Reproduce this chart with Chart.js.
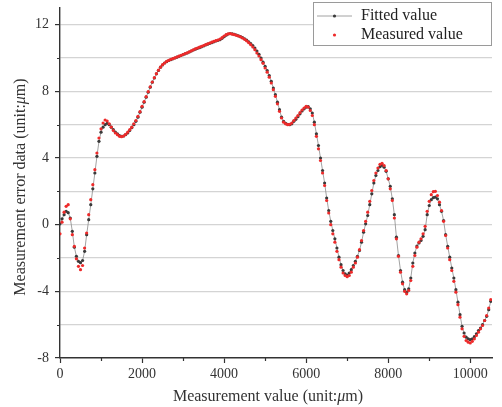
<!DOCTYPE html>
<html>
<head>
<meta charset="utf-8">
<script src="https://cdn.jsdelivr.net/npm/chart.js@4.4.1/dist/chart.umd.min.js"></script>
<style>
  html, body { margin: 0; padding: 0; background: #fff; }
  canvas { display: block; }
</style>
</head>
<body>
<canvas id="c" width="502" height="407"></canvas>
<script>
// ---------- data ----------
const xValues = [
  0, 50, 100, 150, 200, 250, 300, 350, 400, 450,
  500, 550, 600, 650, 700, 750, 800, 850, 900, 950,
  1000, 1050, 1100, 1150, 1200, 1250, 1300, 1350, 1400, 1450,
  1500, 1550, 1600, 1650, 1700, 1750, 1800, 1850, 1900, 1950,
  2000, 2050, 2100, 2150, 2200, 2250, 2300, 2350, 2400, 2450,
  2500, 2550, 2600, 2650, 2700, 2750, 2800, 2850, 2900, 2950,
  3000, 3050, 3100, 3150, 3200, 3250, 3300, 3350, 3400, 3450,
  3500, 3550, 3600, 3650, 3700, 3750, 3800, 3850, 3900, 3950,
  4000, 4050, 4100, 4150, 4200, 4250, 4300, 4350, 4400, 4450,
  4500, 4550, 4600, 4650, 4700, 4750, 4800, 4850, 4900, 4950,
  5000, 5050, 5100, 5150, 5200, 5250, 5300, 5350, 5400, 5450,
  5500, 5550, 5600, 5650, 5700, 5750, 5800, 5850, 5900, 5950,
  6000, 6050, 6100, 6150, 6200, 6250, 6300, 6350, 6400, 6450,
  6500, 6550, 6600, 6650, 6700, 6750, 6800, 6850, 6900, 6950,
  7000, 7050, 7100, 7150, 7200, 7250, 7300, 7350, 7400, 7450,
  7500, 7550, 7600, 7650, 7700, 7750, 7800, 7850, 7900, 7950,
  8000, 8050, 8100, 8150, 8200, 8250, 8300, 8350, 8400, 8450,
  8500, 8550, 8600, 8650, 8700, 8750, 8800, 8850, 8900, 8950,
  9000, 9050, 9100, 9150, 9200, 9250, 9300, 9350, 9400, 9450,
  9500, 9550, 9600, 9650, 9700, 9750, 9800, 9850, 9900, 9950,
  10000, 10050, 10100, 10150, 10200, 10250, 10300, 10350, 10400, 10450,
  10500
];

const fittedValues = [
  0.05, 0.35, 0.6, 0.8, 0.72, 0.4, -0.4, -1.35, -1.9, -2.2,
  -2.28, -2.15, -1.6, -0.6, 0.3, 1.2, 2.15, 3.1, 4.1, 5.0,
  5.55, 5.85, 6.0, 6.08, 6.0, 5.85, 5.7, 5.55, 5.45, 5.35,
  5.3, 5.32, 5.4, 5.5, 5.65, 5.82, 6.0, 6.2, 6.45, 6.75,
  7.05, 7.35, 7.65, 7.95, 8.25, 8.55, 8.8, 9.05, 9.25, 9.45,
  9.58, 9.7, 9.78, 9.85, 9.9, 9.95, 10.0, 10.05, 10.1, 10.15,
  10.2, 10.25, 10.3, 10.36, 10.42, 10.48, 10.53, 10.58, 10.62, 10.67,
  10.72, 10.78, 10.83, 10.88, 10.92, 10.97, 11.02, 11.06, 11.1, 11.18,
  11.28, 11.37, 11.44, 11.47, 11.45, 11.42, 11.38, 11.33, 11.28, 11.22,
  11.15, 11.07, 10.97, 10.86, 10.75, 10.6, 10.42, 10.22, 10.0, 9.75,
  9.5, 9.25, 8.95, 8.6, 8.2, 7.8, 7.35, 6.9, 6.45, 6.2,
  6.08, 6.02, 6.0, 6.05, 6.2, 6.32, 6.48, 6.65, 6.82, 6.95,
  7.05, 7.08, 6.95, 6.7, 6.15, 5.45, 4.75, 4.0, 3.25, 2.5,
  1.6, 0.85, 0.2, -0.35, -0.85, -1.4, -1.95, -2.4, -2.75, -2.95,
  -3.02, -2.9, -2.7, -2.45, -2.2, -1.9, -1.55, -1.05, -0.45, 0.05,
  0.55, 1.2, 1.85, 2.5, 2.95, 3.25, 3.48, 3.56, 3.45, 3.2,
  2.75, 2.3, 1.55, 0.6, -0.75, -1.85, -2.75, -3.45, -3.9, -4.05,
  -3.85, -3.2, -2.3, -1.7, -1.28, -1.1, -0.95, -0.7, -0.3, 0.6,
  1.15, 1.5, 1.62, 1.65, 1.55, 1.2, 0.8, 0.25, -0.6, -1.3,
  -1.95, -2.6, -3.2, -3.9, -4.65, -5.4, -6.1, -6.5, -6.75, -6.85,
  -6.9, -6.85, -6.72, -6.55, -6.35, -6.2, -6.0, -5.75, -5.5, -5.1,
  -4.6
];

const measuredValues = [
  -0.55, 0.15, 0.75, 1.1, 1.2, 0.35, -0.6, -1.3, -2.05, -2.5,
  -2.7, -2.45, -1.4, -0.5, 0.6, 1.5, 2.4, 3.3, 4.3, 5.2,
  5.75, 6.1, 6.28, 6.22, 6.05, 5.85, 5.65, 5.5, 5.4, 5.3,
  5.28, 5.32, 5.42, 5.55, 5.7, 5.85, 6.05, 6.25, 6.5, 6.78,
  7.1, 7.38, 7.68, 7.98, 8.27, 8.56, 8.82, 9.06, 9.27, 9.45,
  9.6, 9.7, 9.8, 9.86, 9.92, 9.96, 10.01, 10.06, 10.11, 10.16,
  10.21, 10.27, 10.31, 10.37, 10.43, 10.49, 10.55, 10.6, 10.65, 10.7,
  10.75, 10.8, 10.85, 10.9, 10.95, 11.0, 11.04, 11.08, 11.14, 11.22,
  11.32, 11.4, 11.45, 11.46, 11.43, 11.4, 11.36, 11.32, 11.27, 11.2,
  11.12, 11.03, 10.92, 10.8, 10.66, 10.5, 10.3, 10.12, 9.9, 9.68,
  9.4, 9.15, 8.85, 8.5, 8.1, 7.7, 7.25, 6.8, 6.4, 6.15,
  6.05, 6.0, 6.02, 6.1, 6.25, 6.4, 6.55, 6.72, 6.88, 7.0,
  7.1, 7.05, 6.85, 6.55, 6.0, 5.3, 4.55, 3.85, 3.1, 2.35,
  1.45, 0.7, 0.0, -0.55, -1.05, -1.6, -2.1, -2.55, -2.9, -3.05,
  -3.12, -3.05, -2.85, -2.55, -2.3, -1.95, -1.5, -0.95, -0.35, 0.2,
  0.75, 1.4, 2.05, 2.65, 3.1, 3.4, 3.62, 3.68, 3.55, 3.25,
  2.75, 2.15, 1.45, 0.4, -0.85, -1.9, -2.85, -3.55, -4.0, -4.15,
  -3.95, -3.35, -2.5, -1.85, -1.35, -1.05, -0.85, -0.55, -0.1, 0.8,
  1.4, 1.8, 1.98, 2.0, 1.75, 1.35, 0.85, 0.2, -0.65, -1.4,
  -2.1, -2.75, -3.4, -4.05, -4.8, -5.55, -6.25, -6.7, -6.95, -7.05,
  -7.1, -7.0, -6.85, -6.65, -6.45, -6.25, -6.05, -5.75, -5.45, -5.0,
  -4.5
];

const xMajorTicks = [0, 2000, 4000, 6000, 8000, 10000];
const xMinorTicks = [1000, 3000, 5000, 7000, 9000];
const yLabelTicks = [-8, -4, 0, 4, 8, 12];
const yMinorTicks = [-6, -2, 2, 6, 10];
const yGridTicks = [-8, -6, -4, -2, 0, 2, 4, 6, 8, 10, 12];

const fittedLabel = 'Fitted value';
const measuredLabel = 'Measured value';
const xTitleParts = ['Measurement value (unit:', 'μ', 'm)'];
const yTitleParts = ['Measurement error data (unit:', 'μ', 'm)'];

// ---------- styling ----------
const SERIF = '"Liberation Serif", "Times New Roman", serif';
const TEXT = '#333333';
const AXIS = '#333333';
const RED = '#ee2a2a';
const DARK = '#3a3a3a';
const LINE = '#8a8a8a';

const fittedPts = xValues.map((x, i) => ({ x: x, y: fittedValues[i] }));
const measuredPts = xValues.map((x, i) => ({ x: x, y: measuredValues[i] }));

function drawRich(ctx, parts, cx, cy, rotate, size) {
  ctx.save();
  ctx.translate(cx, cy);
  if (rotate) ctx.rotate(-Math.PI / 2);
  ctx.fillStyle = TEXT;
  ctx.textBaseline = 'middle';
  ctx.textAlign = 'left';
  const fonts = parts.map((p, i) => (i === 1 ? 'italic ' : '') + size + 'px ' + SERIF);
  let widths = parts.map((p, i) => { ctx.font = fonts[i]; return ctx.measureText(p).width; });
  const total = widths.reduce((a, b) => a + b, 0);
  let x = -total / 2;
  parts.forEach((p, i) => { ctx.font = fonts[i]; ctx.fillText(p, x, 0); x += widths[i]; });
  ctx.restore();
}

const decor = {
  id: 'decor',
  afterDraw(chart) {
    const ctx = chart.ctx;
    const xs = chart.scales.x, ys = chart.scales.y;
    const area = chart.chartArea;
    ctx.save();
    // minor ticks
    ctx.strokeStyle = AXIS;
    ctx.lineWidth = 1.2;
    ctx.beginPath();
    xMinorTicks.forEach(v => {
      const px = Math.round(xs.getPixelForValue(v)) + 0.5;
      ctx.moveTo(px, area.bottom);
      ctx.lineTo(px, area.bottom + 3);
    });
    yMinorTicks.forEach(v => {
      const py = Math.round(ys.getPixelForValue(v)) + 0.5;
      ctx.moveTo(area.left, py);
      ctx.lineTo(area.left - 3, py);
    });
    ctx.stroke();

    // axis titles
    drawRich(ctx, xTitleParts, 268, 397, false, 16);
    drawRich(ctx, yTitleParts, 21, 187, true, 16);

    // legend
    const lx = 313.5, ly = 2.5, lw = 178, lh = 43;
    ctx.fillStyle = '#ffffff';
    ctx.fillRect(lx, ly, lw, lh);
    ctx.strokeStyle = '#9a9a9a';
    ctx.lineWidth = 1;
    ctx.strokeRect(lx, ly, lw, lh);
    // fitted sample
    ctx.strokeStyle = LINE;
    ctx.lineWidth = 0.8;
    ctx.beginPath();
    ctx.moveTo(317, 16);
    ctx.lineTo(352, 16);
    ctx.stroke();
    ctx.fillStyle = DARK;
    ctx.beginPath(); ctx.arc(334.5, 16, 1.6, 0, Math.PI * 2); ctx.fill();
    // measured sample
    ctx.fillStyle = RED;
    ctx.beginPath(); ctx.arc(334.5, 35, 1.6, 0, Math.PI * 2); ctx.fill();
    // labels
    ctx.fillStyle = '#222222';
    ctx.font = '16px ' + SERIF;
    ctx.textBaseline = 'middle';
    ctx.textAlign = 'left';
    ctx.fillText(fittedLabel, 361, 16);
    ctx.fillText(measuredLabel, 361, 35);
    ctx.restore();
  }
};

new Chart(document.getElementById('c'), {
  type: 'scatter',
  data: {
    datasets: [
      {
        label: measuredLabel,
        data: measuredPts,
        showLine: false,
        pointRadius: 1.6,
        pointHoverRadius: 1.6,
        pointBorderWidth: 0,
        pointBackgroundColor: RED,
        pointBorderColor: RED
      },
      {
        label: fittedLabel,
        data: fittedPts,
        showLine: true,
        borderColor: LINE,
        borderWidth: 0.8,
        tension: 0,
        pointRadius: 1.6,
        pointHoverRadius: 1.6,
        pointBorderWidth: 0,
        pointBackgroundColor: DARK,
        pointBorderColor: DARK
      }
    ]
  },
  options: {
    responsive: false,
    animation: false,
    devicePixelRatio: 1,
    layout: { padding: { top: 8, right: 10, left: 0, bottom: 0 } },
    plugins: { legend: { display: false }, tooltip: { enabled: false } },
    events: [],
    scales: {
      x: {
        type: 'linear',
        min: 0,
        max: 10530,
        afterBuildTicks: s => { s.ticks = xMajorTicks.map(v => ({ value: v })); },
        afterFit: s => { s.height = 49; },
        grid: { drawOnChartArea: false, drawTicks: true, tickLength: 5, tickColor: AXIS, tickWidth: 1.2 },
        border: { display: true, color: AXIS, width: 1.4 },
        ticks: {
          font: { family: SERIF, size: 14 },
          color: TEXT,
          padding: 3,
          maxRotation: 0,
          autoSkip: false,
          callback: v => String(v)
        }
      },
      y: {
        type: 'linear',
        min: -8,
        max: 13,
        afterBuildTicks: s => { s.ticks = yGridTicks.map(v => ({ value: v })); },
        afterFit: s => { s.width = 60; s.paddingTop = 0; s.paddingBottom = 0; },
        grid: {
          color: c => (c.tick && c.tick.value === -8) ? 'rgba(0,0,0,0)' : '#d4d4d4',
          lineWidth: 1.2,
          drawTicks: true,
          tickLength: 5,
          tickWidth: 1.2,
          tickColor: c => (c.tick && yLabelTicks.includes(c.tick.value)) ? AXIS : 'rgba(0,0,0,0)'
        },
        border: { display: true, color: AXIS, width: 1.4 },
        ticks: {
          font: { family: SERIF, size: 14 },
          color: TEXT,
          padding: 6,
          autoSkip: false,
          callback: v => yLabelTicks.includes(v) ? String(v) : ''
        }
      }
    }
  },
  plugins: [decor]
});
</script>
</body>
</html>
